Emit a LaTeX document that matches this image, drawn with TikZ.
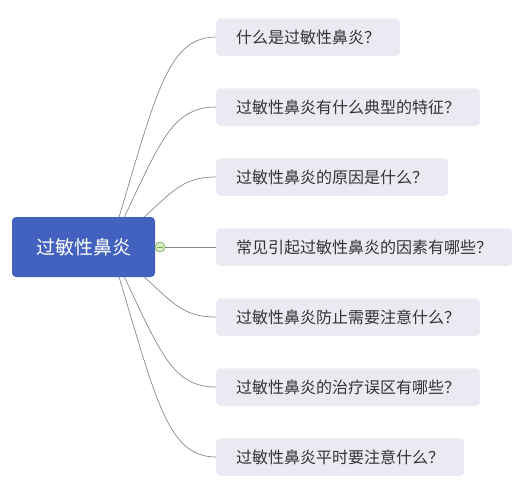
\documentclass[tikz,border=0pt]{standalone}
\usepackage{fontspec}
\setmainfont{Noto Sans CJK SC}
\usepackage{xcolor}
\usepackage{tikz}
\definecolor{rootblue}{HTML}{4361BE}
\definecolor{topicgray}{HTML}{E9EAF2}
\definecolor{topictext}{HTML}{333333}
\definecolor{linegray}{HTML}{8A8A8A}
\definecolor{foldgreen}{HTML}{6AAE45}
\definecolor{foldfill}{HTML}{DCEBCB}

\begin{document}
\begin{tikzpicture}[x=1pt,y=-1pt,
  topic/.style={anchor=west,fill=topicgray,text=topictext,rounded corners=4pt,minimum height=37.5pt,inner xsep=20pt,inner ysep=0pt,font=\fontsize{16}{19}\selectfont},
  central/.style={fill=rootblue,text=white,rounded corners=4pt,minimum width=143pt,minimum height=60pt,inner sep=0pt,font=\fontsize{19}{22}\selectfont},
  branch/.style={draw=linegray,line width=0.7pt},
  foldmark/.style={circle,draw=foldgreen,fill=foldfill,line width=0.6pt,minimum size=10pt,inner sep=0pt}]
  \useasboundingbox (0,0) rectangle (530,498);
  \coordinate (hub) at (110,247);
  \node[topic] (q1) at (216,37) {什么是过敏性鼻炎？};
  \node[topic] (q2) at (216,107) {过敏性鼻炎有什么典型的特征？};
  \node[topic] (q3) at (216,177) {过敏性鼻炎的原因是什么？};
  \node[topic] (q4) at (216,247) {常见引起过敏性鼻炎的因素有哪些？};
  \node[topic] (q5) at (216,317) {过敏性鼻炎防止需要注意什么？};
  \node[topic] (q6) at (216,387) {过敏性鼻炎的治疗误区有哪些？};
  \node[topic] (q7) at (216,457) {过敏性鼻炎平时要注意什么？};
  \draw[branch] (hub) .. controls (155,100) and (165,37) .. (q1.west);
  \draw[branch] (hub) .. controls (158,149) and (168,107) .. (q2.west);
  \draw[branch] (hub) .. controls (170,198) and (175,177) .. (q3.west);
  \draw[branch] (hub) .. controls (170,296) and (175,317) .. (q5.west);
  \draw[branch] (hub) .. controls (158,345) and (168,387) .. (q6.west);
  \draw[branch] (hub) .. controls (155,394) and (165,457) .. (q7.west);
  \node[central] (root) at (83.5,247) {过敏性鼻炎};
  \node[foldmark] (fold) at (160,247) {};
  \draw[branch] (fold) -- (q4.west);
  \draw[foldgreen,line width=0.8pt] ([xshift=-3pt]fold.center) -- ([xshift=3pt]fold.center);
\end{tikzpicture}
\end{document}
